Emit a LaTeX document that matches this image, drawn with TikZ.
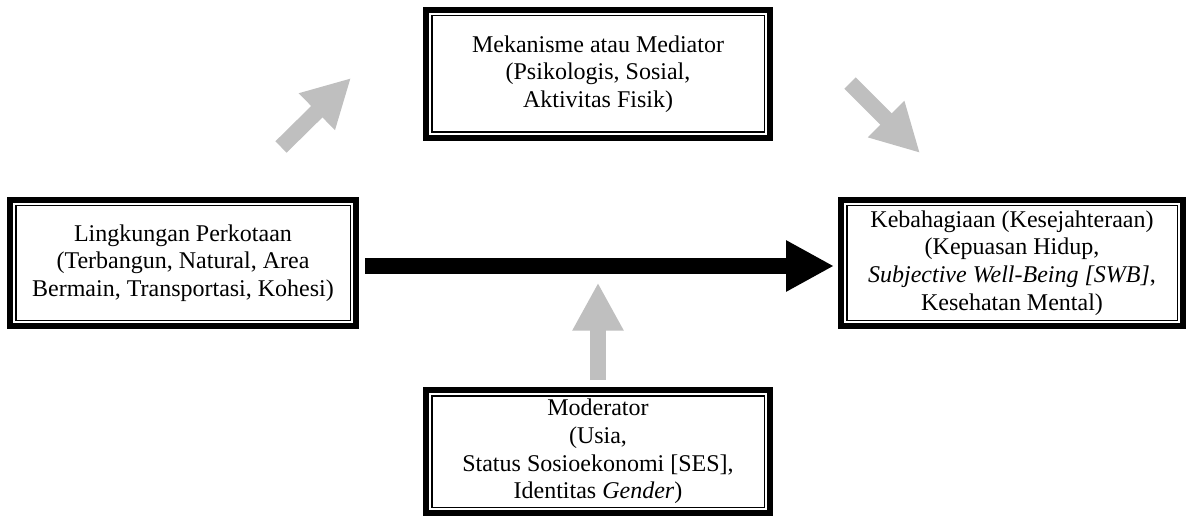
\documentclass[tikz,border=0pt]{standalone}
\usepackage{fontspec}
\setmainfont{Liberation Serif}
\usetikzlibrary{positioning,fit,calc,arrows.meta}

\begin{document}
\begin{tikzpicture}[x=0.5pt,y=-0.5pt,
		kotak/.style={rectangle,draw,line width=0.75pt,align=center,inner sep=1pt,
			font=\fontsize{12}{13.8}\selectfont},
		bingkai/.style={rectangle,draw,line width=3pt,inner sep=2.5pt},
		panah/.style={line width=8pt,-{Triangle[length=24pt,width=24pt]}},
		abu/.style={panah,draw=black!25}]
	\useasboundingbox (0,0) rectangle (1187,518);
	% kotak-kotak
	\node[kotak,minimum width=166.25pt,minimum height=58.25pt] (mediator) at (598,74)
		{Mekanisme atau Mediator\\(Psikologis, Sosial,\\Aktivitas Fisik)};
	\node[bingkai,fit=(mediator)] (bmediator) {};
	\node[kotak,minimum width=167.25pt,minimum height=57.25pt] (lingkungan) at (183,263)
		{Lingkungan Perkotaan\\(Terbangun, Natural, Area\\Bermain, Transportasi, Kohesi)};
	\node[bingkai,fit=(lingkungan)] (blingkungan) {};
	\node[kotak,minimum width=165.25pt,minimum height=57.25pt] (bahagia) at (1012,263)
		{Kebahagiaan (Kesejahteraan)\\(Kepuasan Hidup,\\\textit{Subjective Well-Being [SWB]},\\Kesehatan Mental)};
	\node[bingkai,fit=(bahagia)] (bbahagia) {};
	\node[kotak,minimum width=166.25pt,minimum height=55.75pt] (moderator) at (598,451.5)
		{Moderator\\(Usia,\\Status Sosioekonomi [SES],\\Identitas \textit{Gender})};
	\node[bingkai,fit=(moderator)] (bmoderator) {};
	% panah
	\coordinate (tengah) at (598,266);
	\coordinate (kiri1) at (281,147);
	\coordinate (kiri2) at (351,78);
	\coordinate (kanan1) at (850,83);
	\coordinate (kanan2) at (920,153);
	\draw[panah,shorten <=3pt,shorten >=2pt] ([yshift=-1.5pt]blingkungan.east) -- ([yshift=-1.5pt]bbahagia.west);
	\draw[abu,shorten <=3.5pt,shorten >=8.35pt] (bmoderator.north) -- (tengah);
	\draw[abu] (kiri1) -- (kiri2);
	\draw[abu] (kanan1) -- (kanan2);
\end{tikzpicture}
\end{document}
